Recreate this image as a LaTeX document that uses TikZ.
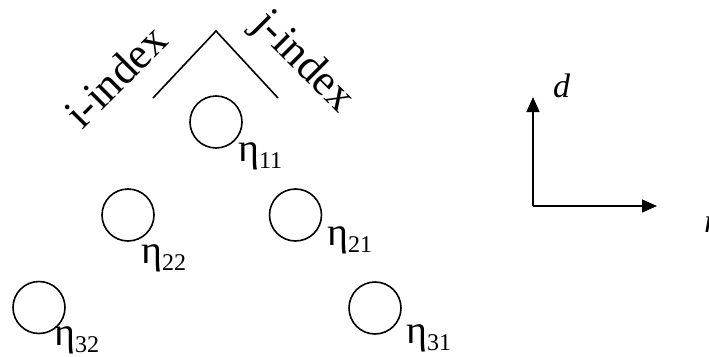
\documentclass[tikz,border=0pt]{standalone}
\usepackage{fontspec}
\setmainfont{Liberation Serif}
\usetikzlibrary{arrows.meta}
\tikzset{
  cell/.style={circle, draw, line width=1.6pt, minimum size=52pt, inner sep=0pt},
  etalbl/.style={anchor=base west, inner sep=0pt, font=\fontsize{40}{40}\selectfont},
  idxlbl/.style={anchor=base west, inner sep=0pt, font=\fontsize{44}{44}\selectfont},
  axlbl/.style={anchor=base west, inner sep=0pt, font=\itshape\fontsize{34}{34}\selectfont},
  axis/.style={line width=1.4pt, -{Triangle[length=15pt,width=13pt]}},
}
\newcommand{\etasub}[1]{η\raisebox{-7pt}{\fontsize{24}{24}\selectfont #1}}
\begin{document}
\begin{tikzpicture}[x=1pt, y=-1pt]
    \useasboundingbox (0,0) rectangle (709,356);
    % index directions
    \coordinate (capl) at (153,98);
    \coordinate (capt) at (216,31);
    \coordinate (capr) at (278,98);
    \draw[line width=1.6pt] (capl) -- (capt) -- (capr);
    \node[idxlbl, rotate=45] (iidx) at (82,131) {i-index};
    \node[idxlbl, rotate=-45] (jidx) at (251,26) {j-index};
    % cells (circle centre / label baseline)
    \foreach \n/\cx/\cy/\lx/\ly in {11/216/122/238/161, 22/128/215/141/263,
        21/295.5/215/327/245, 32/39/307.5/54/345, 31/375/308/406/343} {
        \node[cell] (e\n) at (\cx,\cy) {};
        \node[etalbl] (l\n) at (\lx,\ly) {\etasub{\n}};
    }
    % axes
    \coordinate (o) at (533,206);
    \coordinate (dtip) at (533,97);
    \coordinate (rtip) at (657,206);
    \draw[axis] (o) -- (dtip);
    \draw[axis] (o) -- (rtip);
    \node[axlbl] (dlbl) at (553,97) {d};
    \node[axlbl] (rlbl) at (704,232) {r};
\end{tikzpicture}
\end{document}
